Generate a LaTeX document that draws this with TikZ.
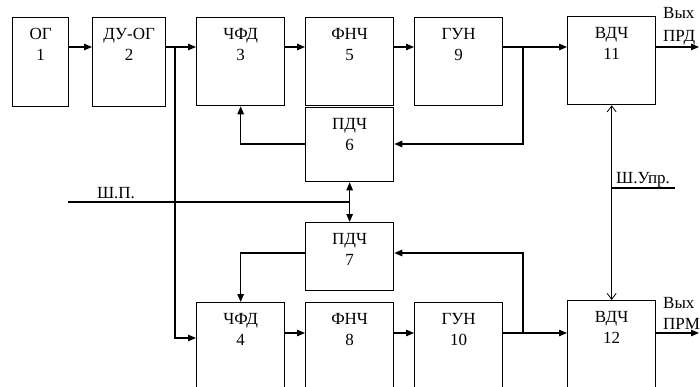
\documentclass[tikz,border=0pt]{standalone}
\usepackage{fontspec}
\setmainfont{Liberation Serif}
\usetikzlibrary{arrows.meta}
\tikzset{
  blk/.style={draw, line width=1.3pt, anchor=north west, inner sep=0pt,
    minimum width=88pt, minimum height=88pt},
  ttl/.style={anchor=north, align=center, inner sep=0pt, yshift=-11pt},
  arr/.style={line width=1.1pt, -{Triangle[length=8pt,width=6.5pt]}},
  dblarr/.style={line width=1.1pt,
    {Triangle[length=8pt,width=6.5pt]}-{Triangle[length=8pt,width=6.5pt]}},
  barb/.style={line width=0.8pt,
    {Straight Barb[length=6pt,width=9pt]}-{Straight Barb[length=6pt,width=9pt]}},
  ln/.style={line width=1.1pt},
}
\begin{document}
\begin{tikzpicture}[x=1pt, y=-1pt, font=\fontsize{17}{21}\selectfont]
    \useasboundingbox (0,0) rectangle (700,387);
    \clip (0,0) rectangle (700,387);

    % upper chain
    \node[blk, minimum width=56pt, minimum height=89pt] (b1) at (12,17) {};
    \node[blk, minimum width=73pt, minimum height=89pt] (b2) at (92,17) {};
    \node[blk] (b3) at (196,17) {};
    \node[blk] (b5) at (305,17) {};
    \node[blk] (b9) at (414,17) {};
    \node[blk] (b11) at (567,16) {};
    \node[blk, minimum height=74pt] (b6) at (305,107) {};

    % lower chain
    \node[blk, minimum height=68pt] (b7) at (305,222) {};
    \node[blk, minimum height=100pt] (b4) at (196,302) {};
    \node[blk, minimum height=100pt] (b8) at (305,302) {};
    \node[blk, minimum height=100pt] (b10) at (414,302) {};
    \node[blk, minimum height=100pt] (b12) at (567,300) {};

    \node[ttl] (t1) at (b1.north) {ОГ\\1};
    \node[ttl] (t2) at (b2.north) {ДУ-ОГ\\2};
    \node[ttl] (t3) at (b3.north) {ЧФД\\3};
    \node[ttl] (t5) at (b5.north) {ФНЧ\\5};
    \node[ttl] (t9) at (b9.north) {ГУН\\9};
    \node[ttl] (t11) at (b11.north) {ВДЧ\\11};
    \node[ttl] (t6) at (b6.north) {ПДЧ\\6};
    \node[ttl] (t7) at (b7.north) {ПДЧ\\7};
    \node[ttl] (t4) at (b4.north) {ЧФД\\4};
    \node[ttl] (t8) at (b8.north) {ФНЧ\\8};
    \node[ttl] (t10) at (b10.north) {ГУН\\10};
    \node[ttl] (t12) at (b12.north) {ВДЧ\\12};

    \coordinate (r1) at (0,47);
    \coordinate (r2) at (0,333);
    \coordinate (r3) at (0,338);
    \coordinate (f1) at (0,144);
    \coordinate (f2) at (0,253);
    \coordinate (s1) at (175,47);
    \coordinate (s2) at (523,47);
    \coordinate (s3) at (523,333);
    \coordinate (o1) at (699,47);
    \coordinate (o2) at (699,333);
    \coordinate (sp) at (68,202);
    \coordinate (su) at (675,188);

    \draw[arr] (b1.east |- r1) -- (b2.west |- r1);
    \draw[arr] (b2.east |- r1) -- (b3.west |- r1);
    \draw[arr] (b3.east |- r1) -- (b5.west |- r1);
    \draw[arr] (b5.east |- r1) -- (b9.west |- r1);
    \draw[arr] (b9.east |- r1) -- (b11.west |- r1);
    \draw[arr] (b11.east |- r1) -- (o1);
    \draw[arr] (s1) |- (b4.west |- r3);
    \draw[arr] (s2) |- (b6.east |- f1);
    \draw[arr] (b6.west |- f1) -| (b3.south);

    \draw[arr] (b4.east |- r2) -- (b8.west |- r2);
    \draw[arr] (b8.east |- r2) -- (b10.west |- r2);
    \draw[arr] (b10.east |- r2) -- (b12.west |- r2);
    \draw[arr] (b12.east |- r2) -- (o2);
    \draw[arr] (s3) |- (b7.east |- f2);
    \draw[arr] (b7.west |- f2) -| (b4.north);

    % buses
    \draw[dblarr] (b6.south) -- (b7.north);
    \draw[ln] (sp) -- (b6.south |- sp);
    \node[anchor=base] (lsp) at (116,198) {Ш.П.};
    \draw[barb] (b11.south) -- (b12.north);
    \draw[ln] (b11.south |- su) -- (su);
    \node[anchor=base] (lsu) at (643,184) {Ш.Упр.};

    \node[anchor=base west, inner sep=0pt] (v1) at (663,19) {Вых};
    \node[anchor=base west, inner sep=0pt] (p1) at (663,42) {ПРД};
    \node[anchor=base west, inner sep=0pt] (v2) at (663,308) {Вых};
    \node[anchor=base west, inner sep=0pt] (p2) at (663,329) {ПРМ};
\end{tikzpicture}
\end{document}
